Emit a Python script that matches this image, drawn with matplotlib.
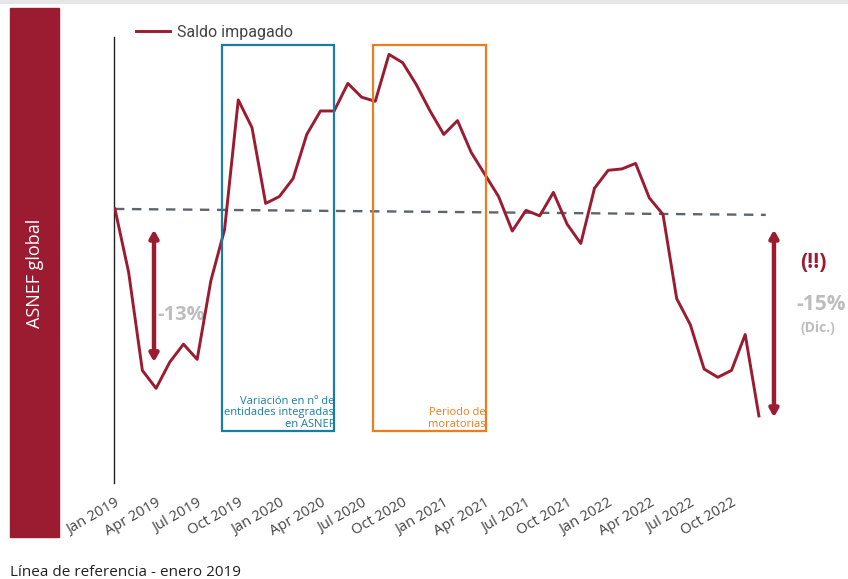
import matplotlib
matplotlib.use("Agg")
import matplotlib.pyplot as plt
from matplotlib.patches import Rectangle

# indice del saldo impagado (enero 2019 = 100)
months = ["Jan 2019", "Feb 2019", "Mar 2019", "Apr 2019", "May 2019", "Jun 2019",
          "Jul 2019", "Aug 2019", "Sep 2019", "Oct 2019", "Nov 2019", "Dec 2019",
          "Jan 2020", "Feb 2020", "Mar 2020", "Apr 2020", "May 2020", "Jun 2020",
          "Jul 2020", "Aug 2020", "Sep 2020", "Oct 2020", "Nov 2020", "Dec 2020",
          "Jan 2021", "Feb 2021", "Mar 2021", "Apr 2021", "May 2021", "Jun 2021",
          "Jul 2021", "Aug 2021", "Sep 2021", "Oct 2021", "Nov 2021", "Dec 2021",
          "Jan 2022", "Feb 2022", "Mar 2022", "Apr 2022", "May 2022", "Jun 2022",
          "Jul 2022", "Aug 2022", "Sep 2022", "Oct 2022", "Nov 2022", "Dec 2022"]
saldo = [100.0, 95.4, 88.3, 87.0, 88.9, 90.2, 89.1, 94.8, 98.5, 107.9, 105.9, 100.4,
         100.9, 102.2, 105.4, 107.1, 107.1, 109.1, 108.1, 107.8, 111.2, 110.6, 109.0, 107.1,
         105.4, 106.4, 104.1, 102.5, 100.9, 98.4, 99.9, 99.5, 101.2, 98.9, 97.5, 101.5,
         102.8, 102.9, 103.3, 100.8, 99.6, 93.5, 91.6, 88.4, 87.8, 88.3, 90.9, 85.0]
tick_labels = months[::3]

RED = "#9b1b30"
BLUE = "#1a7ca3"
ORANGE = "#ec7d1e"
GREY = "#bdbdbd"
OPEN = ["Open Sans", "DejaVu Sans"]

W, H = 848, 579
fig = plt.figure(figsize=(W / 100, H / 100), dpi=100)
plt.rcParams['font.family'] = ['Roboto', 'DejaVu Sans']

def fx(px):
    return px / W

def fy(py):
    return 1 - py / H

# barra lateral
fig.patches.append(Rectangle((fx(10), fy(537)), fx(59) - fx(10), fy(8) - fy(537),
                             transform=fig.transFigure, color=RED, zorder=0))
fig.patches.append(Rectangle((0, fy(3)), 1, 3 / H, transform=fig.transFigure,
                             color="#e6e6e6", zorder=0))
fig.text(fx(35), fy(273), "ASNEF global", rotation=90, color="white",
         fontsize=13, ha="center", va="center", family=OPEN)

ax = fig.add_axes([fx(114), fy(483), fx(800) - fx(114), fy(37) - fy(483)])
x = list(range(len(saldo)))
ax.plot(x, saldo, color=RED, lw=2.1, label="Saldo impagado", zorder=3)
ax.set_xlim(-0.07, 50.0)
ax.set_ylim(80.14, 112.46)

# linea de referencia
ax.plot([0, 47.5], [100, 99.57], ls=(0, (4, 3.2)), color="#5d6670", lw=1.7, zorder=2)

# recuadros
ax.add_patch(Rectangle((7.82, 83.91), 16.0 - 7.82, 111.88 - 83.91, fill=False,
                       ec=BLUE, lw=1.6, zorder=4))
ax.text(16.0, 84.0, "Variación en nº de\nentidades integradas\nen ASNEF", color=BLUE,
        fontsize=8, ha="right", va="bottom", linespacing=1.05, family=OPEN, zorder=5)
ax.add_patch(Rectangle((18.86, 83.91), 27.05 - 18.86, 111.88 - 83.91, fill=False,
                       ec=ORANGE, lw=1.6, zorder=4))
ax.text(27.05, 84.0, "Periodo de\nmoratorias", color=ORANGE, fontsize=8,
        ha="right", va="bottom", linespacing=1.05, family=OPEN, zorder=5)

# flechas
arrow = dict(arrowstyle="<|-|>,head_length=0.45,head_width=0.25", color=RED, lw=3.2,
             shrinkA=0, shrinkB=0)
ax.annotate("", xy=(2.85, 88.9), xytext=(2.85, 98.5), arrowprops=arrow)
ax.annotate("", xy=(48.1, 84.9), xytext=(48.1, 98.5), arrowprops=arrow)
ax.text(3.1, 92.3, "-13%", color=GREY, fontsize=14.5, fontweight="bold",
        ha="left", va="center", family=OPEN, zorder=1)

fig.text(fx(813), fy(262), "(!!)", color=RED, fontsize=15, fontweight="bold",
         ha="center", va="center", family=OPEN)
fig.text(fx(821), fy(305), "-15%", color=GREY, fontsize=15, fontweight="bold",
         ha="center", va="center", family=OPEN)
fig.text(fx(818), fy(328), "(Dic.)", color=GREY, fontsize=10, fontweight="bold",
         ha="center", va="center", family=OPEN)

# ejes
for s in ["top", "right", "bottom"]:
    ax.spines[s].set_visible(False)
ax.spines["left"].set_color("#222222")
ax.spines["left"].set_linewidth(1)
ax.set_yticks([])
ax.set_xticks(x[::3])
ax.set_xticklabels(tick_labels, rotation=30, ha="right", rotation_mode="anchor",
                   fontsize=10.5, color="#444444", family=OPEN)
ax.tick_params(axis="x", length=0, pad=9)

ax.legend(loc="center left", bbox_to_anchor=(fx(122), fy(32)),
          bbox_transform=fig.transFigure, frameon=False, fontsize=11.5,
          handlelength=2.1, handletextpad=0.45, labelcolor="#444444")

fig.text(fx(10), fy(572), "Línea de referencia - enero 2019", fontsize=11,
         color="#222222", ha="left", va="center", family=OPEN)

fig.savefig("out.png", dpi=100)
